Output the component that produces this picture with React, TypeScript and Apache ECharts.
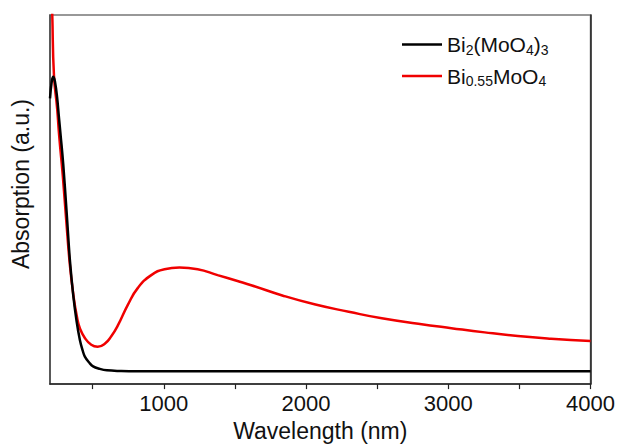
import React, { useEffect, useRef } from "react";
import * as echarts from "echarts";

const blackWl = [200, 212, 223, 235, 250, 262, 275, 293, 317, 340, 363, 387, 410, 430, 445, 475, 503, 550, 600, 700, 800, 1500, 2500, 4000];
const blackAbs = [291, 308, 313, 308, 292, 273, 253, 224, 175, 126, 91, 64, 45, 34, 28, 22, 18, 15.5, 14, 13.3, 13, 13, 13, 13];

const redWl = [200, 216, 228, 250, 265, 290, 315, 340, 365, 390, 410, 445, 490, 535, 585, 632, 678, 748, 818, 912, 1005, 1110, 1238, 1378, 1518, 1620, 1833, 2066, 2300, 2533, 2789, 3022, 3256, 3489, 3722, 4000];
const redAbs = [460, 376, 314, 281, 252, 212, 165, 121, 90, 68, 57, 47, 40, 38, 41, 49, 60, 81, 98, 111, 117, 118.7, 117, 111, 105, 100.5, 90.3, 81, 73.7, 67, 61.5, 57, 52.7, 49, 46.3, 44];

const xTickValues = [500, 1000, 1500, 2000, 2500, 3000, 3500, 4000];
const xLabelValues = [1000, 2000, 3000, 4000];

const nameBlack = "Bi2(MoO4)3";
const nameRed = "Bi0.55MoO4";

const FONT = "Liberation Sans, Arial, sans-serif";

export default function App() {
  const ref = useRef<HTMLDivElement>(null);
  useEffect(() => {
    if (!ref.current) return;
    const chart = echarts.init(ref.current, undefined, { renderer: "svg" });
    const pair = (xs: number[], ys: number[]) => xs.map((x, i) => [x, ys[i]]);
    chart.setOption({
      animation: false,
      backgroundColor: "#fff",
      textStyle: { fontFamily: FONT },
      grid: { left: 50, right: 25, top: 15, bottom: 56, show: true, borderColor: "#777", borderWidth: 1.5 },
      legend: {
        data: [nameBlack, nameRed],
        orient: "vertical",
        left: 402,
        top: 34,
        padding: 0,
        icon: "rect",
        itemWidth: 40,
        itemHeight: 2.5,
        itemGap: 9,
        formatter: (n: string) =>
          n === nameBlack
            ? "{n|Bi}{s|2}{n|(MoO}{s|4}{n|)}{s|3}"
            : "{n|Bi}{s|0.55}{n|MoO}{s|4}",
        textStyle: {
          rich: {
            n: { fontSize: 21, lineHeight: 24, color: "#111", fontFamily: FONT },
            s: { fontSize: 14, lineHeight: 10, verticalAlign: "bottom", color: "#111", fontFamily: FONT },
          },
        },
      },
      xAxis: {
        type: "value",
        min: 200,
        max: 4000,
        name: "Wavelength (nm)",
        nameLocation: "middle",
        nameGap: 32,
        nameTextStyle: { fontSize: 23, color: "#111", fontFamily: FONT },
        axisLine: { show: true, lineStyle: { color: "#222", width: 1.5 } },
        axisTick: { show: true, inside: false, length: 5, customValues: xTickValues, lineStyle: { color: "#222", width: 1.2 } },
        axisLabel: {
          customValues: xLabelValues,
          formatter: (v: number) => String(v),
          fontSize: 22,
          color: "#111",
          margin: 8,
          fontFamily: FONT,
        },
        splitLine: { show: false },
      },
      yAxis: [
        {
          type: "value",
          min: 0,
          max: 376,
          axisLine: { show: true, lineStyle: { color: "#444", width: 1.5 } },
          axisTick: { show: false },
          axisLabel: { show: false },
          splitLine: { show: false },
        },
        {
          type: "value",
          position: "right",
          min: 0,
          max: 376,
          axisLine: { show: true, lineStyle: { color: "#222", width: 1.5 } },
          axisTick: { show: false },
          axisLabel: { show: false },
          splitLine: { show: false },
        },
      ],
      graphic: [
        {
          type: "text",
          x: 21,
          y: 184,
          rotation: Math.PI / 2,
          style: {
            text: "Absorption (a.u.)",
            fontSize: 23,
            fill: "#111",
            fontFamily: FONT,
            align: "center",
            verticalAlign: "middle",
          },
        },
      ],
      series: [
        {
          name: nameRed,
          type: "line",
          data: pair(redWl, redAbs),
          symbol: "none",
          smooth: 0.5,
          clip: true,
          lineStyle: { color: "#f00000", width: 2.5 },
          itemStyle: { color: "#f00000" },
        },
        {
          name: nameBlack,
          type: "line",
          data: pair(blackWl, blackAbs),
          symbol: "none",
          smooth: 0.4,
          clip: true,
          lineStyle: { color: "#000", width: 2.5 },
          itemStyle: { color: "#000" },
        },
      ],
    });
    return () => chart.dispose();
  }, []);
  return <div ref={ref} style={{ width: 618, height: 447, position: "absolute", left: 0, top: 0 }} />;
}
